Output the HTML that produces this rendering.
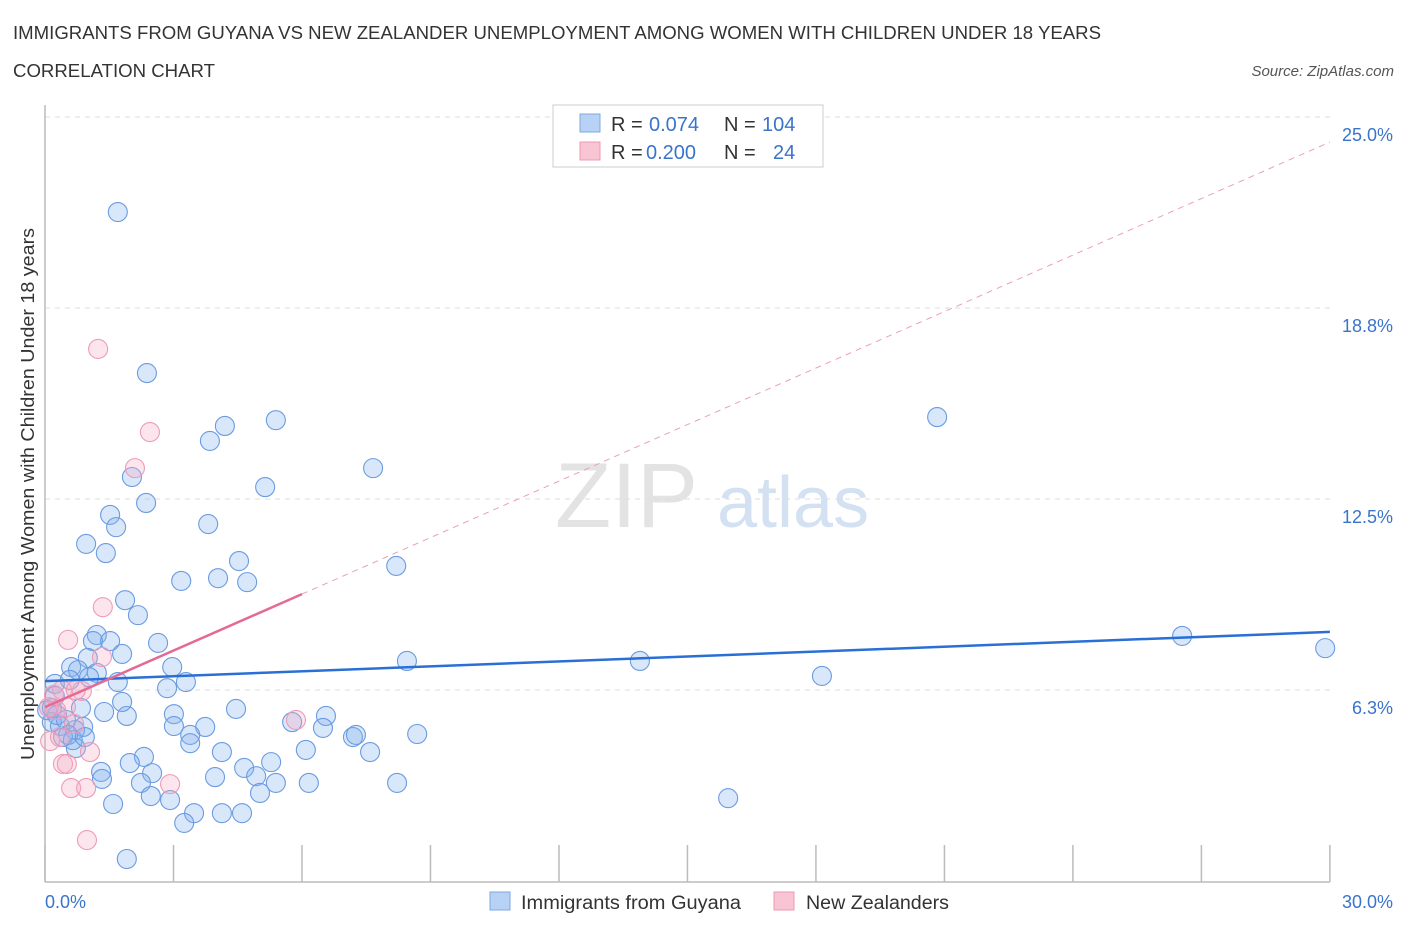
<!DOCTYPE html>
<html><head><meta charset="utf-8"><style>
body{margin:0;background:#fff;font-family:"Liberation Sans",sans-serif}
svg text{font-family:"Liberation Sans",sans-serif}
</style></head><body>
<svg id="chart" width="1406" height="930" viewBox="0 0 1406 930" xmlns="http://www.w3.org/2000/svg">
<text x="13" y="39" font-size="18" fill="#333" textLength="1088" lengthAdjust="spacingAndGlyphs">IMMIGRANTS FROM GUYANA VS NEW ZEALANDER UNEMPLOYMENT AMONG WOMEN WITH CHILDREN UNDER 18 YEARS</text>
<text x="13" y="77" font-size="18" fill="#333" textLength="202" lengthAdjust="spacingAndGlyphs">CORRELATION CHART</text>
<text x="1394" y="76" font-size="15" fill="#555" text-anchor="end" font-style="italic">Source: ZipAtlas.com</text>
<text x="555" y="527" font-size="92" fill="#ddd" font-family="Liberation Serif" opacity="0.8">ZIP</text>
<text x="717" y="527" font-size="72" fill="#c9daf0" opacity="0.8">atlas</text>
<g id="grid"></g><g id="axes"></g><g id="pts"></g><g id="trend"></g>
<text transform="translate(34,494) rotate(-90)" font-size="18" fill="#333" text-anchor="middle" textLength="532" lengthAdjust="spacingAndGlyphs">Unemployment Among Women with Children Under 18 years</text>
<text x="45" y="908" font-size="18" fill="#3a74c9">0.0%</text>
<text x="1393" y="908" font-size="18" fill="#3a74c9" text-anchor="end">30.0%</text>
<g>
<rect x="553" y="105" width="270" height="62" fill="#fff" stroke="#ccc"/>
<rect x="580" y="114" width="20" height="18" fill="#b8d2f5" stroke="#7ea8e0"/>
<rect x="580" y="142" width="20" height="18" fill="#f9c4d4" stroke="#eb9ab3"/>
<text x="611" y="131" font-size="20" fill="#333">R = </text>
<text x="649" y="131" font-size="20" fill="#3a74c9">0.074</text>
<text x="724" y="131" font-size="20" fill="#333">N = </text>
<text x="762" y="131" font-size="20" fill="#3a74c9">104</text>
<text x="611" y="159" font-size="20" fill="#333">R = </text>
<text x="646" y="159" font-size="20" fill="#3a74c9">0.200</text>
<text x="724" y="159" font-size="20" fill="#333">N = </text>
<text x="773" y="159" font-size="20" fill="#3a74c9">24</text>
</g>
<g>
<rect x="490" y="892" width="20" height="18" fill="#b8d2f5" stroke="#7ea8e0"/>
<text x="521" y="909" font-size="19" fill="#333" textLength="220" lengthAdjust="spacingAndGlyphs">Immigrants from Guyana</text>
<rect x="774" y="892" width="20" height="18" fill="#f9c4d4" stroke="#eb9ab3"/>
<text x="806" y="909" font-size="19" fill="#333" textLength="143" lengthAdjust="spacingAndGlyphs">New Zealanders</text>
</g>
</svg>
<script>
const blueX=[1.70,2.38,5.39,4.20,3.85,7.66,2.03,5.14,2.36,1.52,3.81,1.66,0.96,1.42,4.53,8.20,3.18,4.04,4.72,1.87,2.17,2.64,1.21,1.12,1.52,1.80,1.00,8.45,13.89,2.97,0.61,0.77,1.21,1.03,3.29,1.70,2.85,0.23,0.58,18.14,26.55,29.89,20.83,0.84,1.38,1.91,3.01,4.46,6.56,1.80,5.77,6.49,3.74,3.01,0.16,0.35,0.89,0.70,0.42,3.39,7.19,7.26,8.69,3.39,0.72,6.09,4.13,7.59,2.31,1.98,5.28,4.65,1.31,2.50,3.97,4.93,1.33,2.24,5.39,6.16,8.22,2.47,2.92,5.02,1.59,15.95,3.48,4.13,4.60,3.25,1.91,0.16,0.23,0.05,0.28,0.49,0.54,0.65,0.93];
const blueY=[21.89,16.62,15.08,14.89,14.40,13.51,13.22,12.89,12.37,11.98,11.68,11.58,11.03,10.73,10.47,10.31,9.82,9.91,9.78,9.19,8.70,7.79,8.05,7.85,7.85,7.43,7.30,7.20,7.20,7.00,7.00,6.90,6.81,6.67,6.51,6.51,6.31,6.45,6.58,6.71,8.02,7.62,15.18,5.66,5.53,5.40,5.46,5.63,5.40,5.86,5.20,5.01,5.04,5.07,5.20,5.07,5.04,4.94,4.71,4.78,4.71,4.78,4.81,4.51,4.35,4.29,4.22,4.22,4.06,3.86,3.89,3.70,3.57,3.53,3.40,3.43,3.34,3.21,3.21,3.21,3.21,2.78,2.65,2.88,2.52,2.71,2.22,2.22,2.22,1.90,0.72,5.66,6.05,5.59,5.43,5.27,4.78,4.61,4.71];
const pinkX=[1.24,2.45,2.10,1.35,0.54,1.33,0.21,0.40,0.49,0.26,0.86,0.72,0.09,0.12,0.35,0.68,1.05,0.42,0.51,0.61,0.96,2.92,0.98,5.86];
const pinkY=[17.41,14.69,13.51,8.96,7.89,7.33,6.09,6.25,5.69,5.59,6.22,6.25,5.69,4.58,4.71,5.14,4.22,3.83,3.83,3.04,3.04,3.17,1.34,5.27];
const blueTrend=[6.54,8.15];
const pinkTrend=[5.69,24.18];
const yTicks=[6.25,12.5,18.75,25];
const yTickLabels=["6.3%","12.5%","18.8%","25.0%"];
const xTicks=[0,3,6,9,12,15,18,21,24,27,30];
const NS="http://www.w3.org/2000/svg";
const xS=v=>45+v*42.83, yS=v=>881-v*30.56;
function mk(tag,attrs,parent){const e=document.createElementNS(NS,tag);for(const k in attrs)e.setAttribute(k,attrs[k]);document.getElementById(parent).appendChild(e);return e;}
yTicks.forEach((t,i)=>{
  const l=mk('line',{x1:45,x2:1330,y1:yS(t),y2:yS(t),stroke:'#ddd','stroke-dasharray':'5,5'},'grid');
  
  
  const tx=mk('text',{x:1393,y:yS(t)+24,'font-size':18,fill:'#3a74c9','text-anchor':'end'},'grid');
  tx.textContent=yTickLabels[i];
  
  
});
const ya=mk('line',{x1:45,x2:45,y1:105,y2:882,stroke:'#bbb','stroke-width':1.5},'axes');


const xa=mk('line',{x1:45,x2:1330,y1:882,y2:882,stroke:'#bbb','stroke-width':1.5},'axes');


xTicks.forEach(t=>{
  const l=mk('line',{x1:xS(t),x2:xS(t),y1:845,y2:882,stroke:'#bbb','stroke-width':1.5},'axes');
  
  
});
blueX.forEach((x,i)=>{
  const c=mk('circle',{cx:xS(x),cy:yS(blueY[i]),r:9.5,fill:'rgba(130,175,240,0.3)',stroke:'#6b9be0','stroke-width':1.1},'pts');
  
  
});
pinkX.forEach((x,i)=>{
  const c=mk('circle',{cx:xS(x),cy:yS(pinkY[i]),r:9.5,fill:'rgba(245,170,195,0.3)',stroke:'#ee9bb6','stroke-width':1.1},'pts');
  
  
});
const bt=mk('line',{x1:xS(0),x2:xS(30),y1:yS(blueTrend[0]),y2:yS(blueTrend[1]),stroke:'#2a6fd6','stroke-width':2.5},'trend');


const pAt=x=>pinkTrend[0]+(pinkTrend[1]-pinkTrend[0])*x/30;
const pd=mk('line',{x1:xS(6),x2:xS(30),y1:yS(pAt(6)),y2:yS(pinkTrend[1]),stroke:'#eaa0b8','stroke-width':1,'stroke-dasharray':'6,5'},'trend');


const ps=mk('line',{x1:xS(0),x2:xS(6),y1:yS(pinkTrend[0]),y2:yS(pAt(6)),stroke:'#e46a95','stroke-width':2.5},'trend');


</script>
</body></html>
